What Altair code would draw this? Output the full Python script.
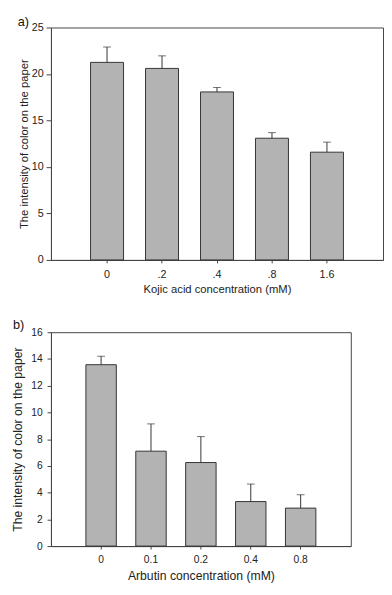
import altair as alt
import pandas as pd

kojic_labels = ["0", ".2", ".4", ".8", "1.6"]
kojic_mean = [21.25, 20.6, 18.07, 13.09, 11.59]
kojic_upper = [22.9, 21.95, 18.55, 13.69, 12.67]

arbutin_labels = ["0", "0.1", "0.2", "0.4", "0.8"]
arbutin_mean = [13.57, 7.1, 6.25, 3.33, 2.84]
arbutin_upper = [14.2, 9.14, 8.19, 4.64, 3.84]

y_title = "The intensity of color on the paper"
FONT = "Liberation Sans"
DARK = "#333333"


def panel(tag, labels, mean, upper, xtitle, ymax, ystep, width, height,
          pin, pout, lab_fs, tit_fs, ytick, ylabpad, ytitpad,
          xlabpad, xtitpad, guard_x, tag_x, tag_y):
    df = pd.DataFrame({"conc": labels, "mean": mean, "upper": upper})
    base = alt.Chart(df)
    xs = alt.Scale(paddingInner=pin, paddingOuter=pout)
    xaxis = alt.Axis(title=xtitle, labelAngle=0, labelFontSize=lab_fs,
                     titleFontSize=tit_fs, tickSize=3,
                     labelPadding=xlabpad, titlePadding=xtitpad)
    ys = alt.Scale(domain=[0, ymax], nice=False)
    yaxis = alt.Axis(title=y_title, values=[v for v in range(0, ymax + 1, ystep)],
                     labelFontSize=lab_fs, titleFontSize=tit_fs,
                     tickSize=ytick, labelPadding=ylabpad,
                     titlePadding=ytitpad, labelOverlap=False)
    x = alt.X("conc:N", sort=labels, scale=xs, axis=xaxis)
    bars = base.mark_bar(fill="#b3b3b3", stroke=DARK, strokeWidth=1).encode(
        x=x, y=alt.Y("mean:Q", scale=ys, axis=yaxis))
    err = base.mark_rule(color=DARK, strokeWidth=1).encode(
        x=x, y=alt.Y("mean:Q", scale=ys, axis=yaxis), y2="upper:Q")
    cap = base.mark_tick(color=DARK, size=8, thickness=1).encode(
        x=x, y=alt.Y("upper:Q", scale=ys, axis=yaxis))
    one = alt.Chart(pd.DataFrame({"t": [tag]}))
    label = one.mark_text(align="left", baseline="top", fontSize=13,
                          font=FONT, color="#111").encode(
        text="t:N", x=alt.value(tag_x), y=alt.value(tag_y))
    guard = one.mark_rule(strokeOpacity=0).encode(
        x=alt.value(guard_x), x2=alt.value(guard_x + 1), y=alt.value(0))
    return alt.layer(bars, err, cap, label, guard).properties(width=width, height=height)


a = panel("a)", kojic_labels, kojic_mean, kojic_upper,
          "Kojic acid concentration (mM)", 25, 5, 340, 238,
          0.4, 0.72, 11, 11.5, 5, 3, 2, 6, 4, -34, -34, -12)
b = panel("b)", arbutin_labels, arbutin_mean, arbutin_upper,
          "Arbutin concentration (mM)", 16, 2, 307, 219,
          0.39, 0.7, 10.5, 12.5, 4, 5, 6, 6, 5, -43, -39, -13)

chart = alt.concat(a, b, columns=1, spacing=24, align="none").properties(
    padding=0
).configure(font=FONT).configure_view(stroke="#444444", strokeWidth=1).configure_axis(
    grid=False, domainColor="#444444", tickColor="#444444",
    labelColor="#222222", titleColor="#222222", titleFontWeight="normal",
    labelFont=FONT, titleFont=FONT
)

chart.save("out.html", embed_options={"renderer": "svg", "actions": False})
